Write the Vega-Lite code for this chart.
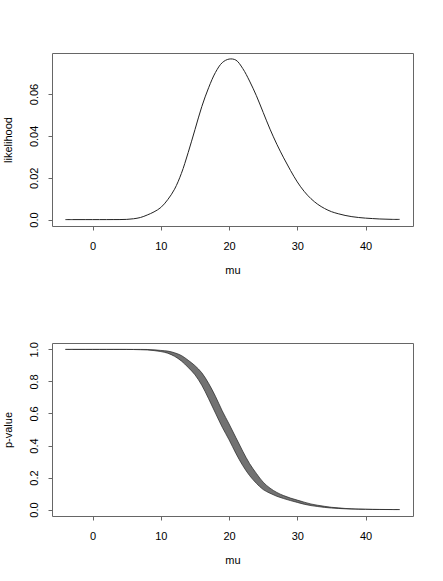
{
  "$schema": "https://vega.github.io/schema/vega-lite/v6.json",
  "padding": {"left": 1, "top": 52, "right": 28, "bottom": 16},
  "background": "white",
  "datasets": {
    "lik": [
      {"mu": -4, "L": 0}, {"mu": -3, "L": 0}, {"mu": -2, "L": 0}, {"mu": -1, "L": 0},
      {"mu": 0, "L": 0}, {"mu": 1, "L": 0}, {"mu": 2, "L": 0}, {"mu": 3, "L": 0.00001},
      {"mu": 4, "L": 0.00002}, {"mu": 5, "L": 0.0001}, {"mu": 6, "L": 0.0004}, {"mu": 7, "L": 0.001},
      {"mu": 8, "L": 0.0022}, {"mu": 9, "L": 0.0037}, {"mu": 10, "L": 0.0058}, {"mu": 11, "L": 0.0095},
      {"mu": 12, "L": 0.0145}, {"mu": 13, "L": 0.022}, {"mu": 14, "L": 0.032}, {"mu": 15, "L": 0.043},
      {"mu": 16, "L": 0.054}, {"mu": 17, "L": 0.063}, {"mu": 18, "L": 0.0703}, {"mu": 19, "L": 0.0750},
      {"mu": 20, "L": 0.0767}, {"mu": 21, "L": 0.0762}, {"mu": 22, "L": 0.0722}, {"mu": 23, "L": 0.0662},
      {"mu": 24, "L": 0.0592}, {"mu": 25, "L": 0.0512}, {"mu": 26, "L": 0.0432}, {"mu": 27, "L": 0.036},
      {"mu": 28, "L": 0.0295}, {"mu": 29, "L": 0.0235}, {"mu": 30, "L": 0.018}, {"mu": 31, "L": 0.0135},
      {"mu": 32, "L": 0.01}, {"mu": 33, "L": 0.0073}, {"mu": 34, "L": 0.0053}, {"mu": 35, "L": 0.0038},
      {"mu": 36, "L": 0.0028}, {"mu": 37, "L": 0.002}, {"mu": 38, "L": 0.0014}, {"mu": 39, "L": 0.001},
      {"mu": 40, "L": 0.0007}, {"mu": 41, "L": 0.0005}, {"mu": 42, "L": 0.0003}, {"mu": 43, "L": 0.0002},
      {"mu": 44, "L": 0.0001}, {"mu": 45, "L": 0.0001}
    ],
    "pv": [
      {"mu": -4, "lo": 1, "hi": 1}, {"mu": -3, "lo": 1, "hi": 1}, {"mu": -2, "lo": 1, "hi": 1},
      {"mu": -1, "lo": 1, "hi": 1}, {"mu": 0, "lo": 1, "hi": 1}, {"mu": 1, "lo": 1, "hi": 1},
      {"mu": 2, "lo": 1, "hi": 1}, {"mu": 3, "lo": 1, "hi": 1}, {"mu": 4, "lo": 1, "hi": 1},
      {"mu": 5, "lo": 0.9998, "hi": 1}, {"mu": 6, "lo": 0.9993, "hi": 1}, {"mu": 7, "lo": 0.998, "hi": 1},
      {"mu": 8, "lo": 0.9965, "hi": 0.9995}, {"mu": 9, "lo": 0.9926, "hi": 0.9974},
      {"mu": 10, "lo": 0.9864, "hi": 0.9936}, {"mu": 11, "lo": 0.9764, "hi": 0.9896},
      {"mu": 12, "lo": 0.957, "hi": 0.979}, {"mu": 13, "lo": 0.928, "hi": 0.962},
      {"mu": 14, "lo": 0.8875, "hi": 0.9325}, {"mu": 15, "lo": 0.8415, "hi": 0.8985},
      {"mu": 16, "lo": 0.776, "hi": 0.854}, {"mu": 17, "lo": 0.692, "hi": 0.788},
      {"mu": 18, "lo": 0.6025, "hi": 0.7075}, {"mu": 19, "lo": 0.514, "hi": 0.616},
      {"mu": 20, "lo": 0.4355, "hi": 0.5345}, {"mu": 21, "lo": 0.3505, "hi": 0.4495},
      {"mu": 22, "lo": 0.275, "hi": 0.365}, {"mu": 23, "lo": 0.2125, "hi": 0.2875},
      {"mu": 24, "lo": 0.164, "hi": 0.226}, {"mu": 25, "lo": 0.125, "hi": 0.171},
      {"mu": 26, "lo": 0.102, "hi": 0.134}, {"mu": 27, "lo": 0.083, "hi": 0.107},
      {"mu": 28, "lo": 0.0687, "hi": 0.0873}, {"mu": 29, "lo": 0.0562, "hi": 0.0718},
      {"mu": 30, "lo": 0.0448, "hi": 0.0592}, {"mu": 31, "lo": 0.0334, "hi": 0.0466},
      {"mu": 32, "lo": 0.025, "hi": 0.035}, {"mu": 33, "lo": 0.019, "hi": 0.027},
      {"mu": 34, "lo": 0.0137, "hi": 0.0203}, {"mu": 35, "lo": 0.0096, "hi": 0.0144},
      {"mu": 36, "lo": 0.0072, "hi": 0.0108}, {"mu": 37, "lo": 0.0048, "hi": 0.0072},
      {"mu": 38, "lo": 0.003, "hi": 0.005}, {"mu": 39, "lo": 0.0025, "hi": 0.0035},
      {"mu": 40, "lo": 0.0015, "hi": 0.0025}, {"mu": 41, "lo": 0.001, "hi": 0.0014},
      {"mu": 42, "lo": 0.0007, "hi": 0.0009}, {"mu": 43, "lo": 0.0004, "hi": 0.0006},
      {"mu": 44, "lo": 0.0003, "hi": 0.0003}, {"mu": 45, "lo": 0.0002, "hi": 0.0002}
    ]
  },
  "vconcat": [
    {
      "width": 361,
      "height": 173,
      "data": {"name": "lik"},
      "mark": {"type": "line", "color": "#222", "strokeWidth": 1, "interpolate": "catmull-rom"},
      "encoding": {
        "x": {"field": "mu", "type": "quantitative", "scale": {"domain": [-5.96, 46.96], "nice": false, "zero": false},
              "axis": {"title": "mu", "values": [0, 10, 20, 30, 40]}},
        "y": {"field": "L", "type": "quantitative", "scale": {"domain": [-0.00306, 0.0796], "nice": false, "zero": false},
              "axis": {"title": "likelihood", "values": [0, 0.02, 0.04, 0.06], "labelOverlap": false,
                       "labelExpr": "datum.value == 0 ? '0.0' : format(datum.value, '.2f')"}}
      }
    },
    {
      "width": 361,
      "height": 173,
      "data": {"name": "pv"},
      "encoding": {
        "x": {"field": "mu", "type": "quantitative", "scale": {"domain": [-5.96, 46.96], "nice": false, "zero": false},
              "axis": {"title": "mu", "values": [0, 10, 20, 30, 40]}},
        "y": {"field": "lo", "type": "quantitative", "scale": {"domain": [-0.04, 1.04], "nice": false, "zero": false},
              "axis": {"title": "p-value", "values": [0, 0.2, 0.4, 0.6, 0.8, 1], "labelOverlap": false, "labelBound": false,
                       "labelExpr": "format(datum.value, '.1f')"}}
      },
      "layer": [
        {
          "mark": {"type": "area", "color": "#727272", "interpolate": "catmull-rom"},
          "encoding": {"y2": {"field": "hi"}}
        },
        {
          "mark": {"type": "line", "color": "#222", "strokeWidth": 0.7, "interpolate": "catmull-rom"}
        },
        {
          "mark": {"type": "line", "color": "#222", "strokeWidth": 0.7, "interpolate": "catmull-rom"},
          "encoding": {"y": {"field": "hi", "type": "quantitative", "axis": {"title": "p-value", "values": [0, 0.2, 0.4, 0.6, 0.8, 1], "labelOverlap": false, "labelBound": false, "labelExpr": "format(datum.value, '.1f')"}}}
        }
      ]
    }
  ],
  "spacing": 117,
  "bounds": "flush",
  "config": {
    "font": "Liberation Sans",
    "view": {"stroke": "#666", "strokeWidth": 1},
    "axis": {
      "domain": false, "grid": false, "tickColor": "#666", "tickSize": 4,
      "labelFontSize": 11, "titleFontSize": 11, "labelColor": "#000", "titleColor": "#000",
      "titleFontWeight": "normal", "labelFont": "Liberation Sans", "titleFont": "Liberation Sans",
      "labelFlush": false, "labelOverlap": false
    },
    "axisX": {"labelPadding": 19.7, "labelBaseline": "alphabetic", "titleY": 47, "titleBaseline": "alphabetic"},
    "axisY": {"labelAngle": 270, "labelAlign": "center", "labelBaseline": "alphabetic", "labelPadding": 11,
              "titleAngle": 270, "titleX": -41, "titleBaseline": "alphabetic"}
  }
}
